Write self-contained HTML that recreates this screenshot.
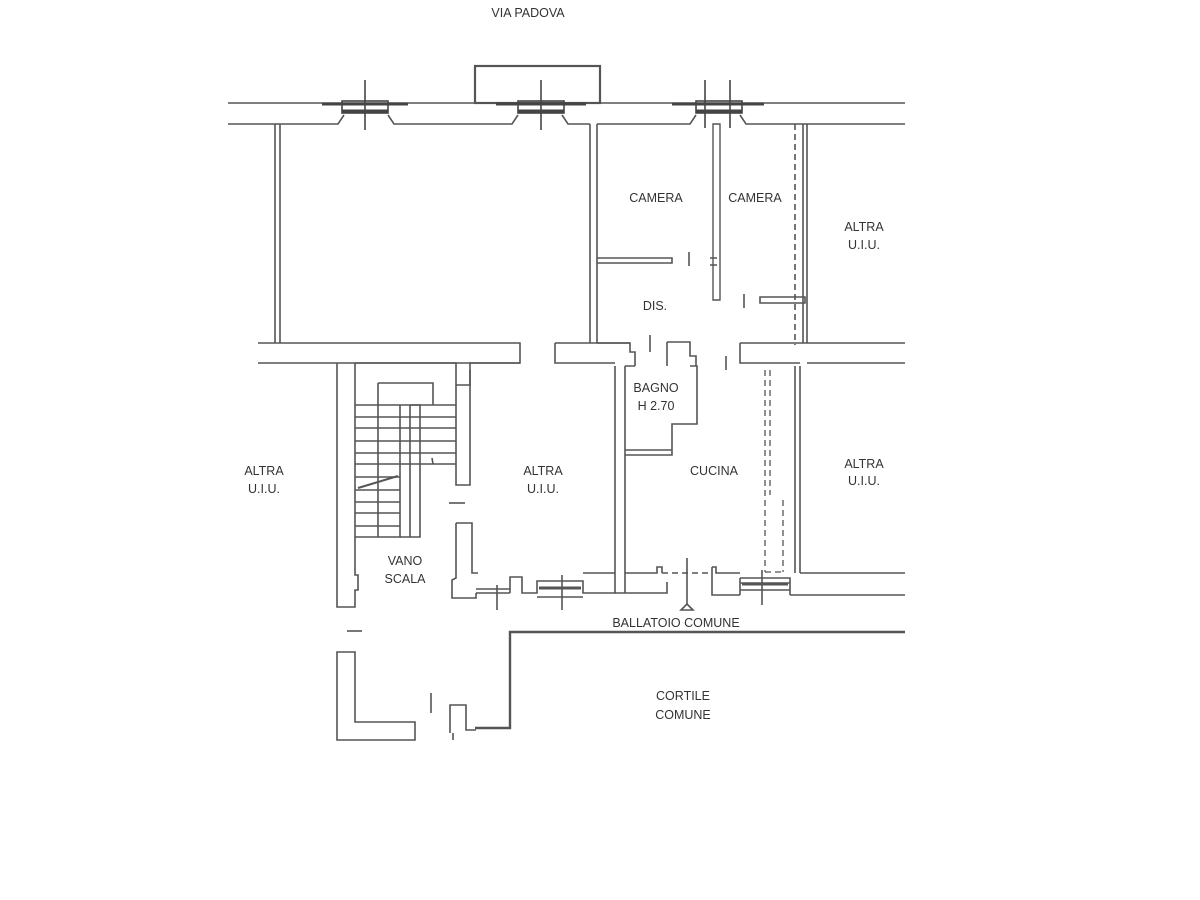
<!DOCTYPE html>
<html><head><meta charset="utf-8"><style>
html,body{margin:0;padding:0;background:#fff;width:1200px;height:900px;overflow:hidden}
svg{display:block}
text{font-family:"Liberation Sans",sans-serif;font-size:12.5px;fill:#333;text-anchor:middle}
</style></head><body>
<svg width="1200" height="900" viewBox="0 0 1200 900" xmlns="http://www.w3.org/2000/svg">
<g fill="none" stroke="#555" stroke-width="1.6">
<!-- top facade -->
<line x1="228" y1="103" x2="905" y2="103"/>
<path d="M228 124 H338 L344 115 M388 115 L394 124 H512 L518 115 M562 115 L568 124 H590"/>
<path d="M597 124 H690 L696 115 M740 115 L746 124 H905"/>
<rect x="475" y="66" width="125" height="37" stroke-width="2.2"/>
<!-- windows -->
<g stroke="#444">
<rect x="342" y="101" width="46" height="12"/><line x1="322" y1="104" x2="408" y2="104" stroke-width="3"/><line x1="342" y1="111" x2="388" y2="111" stroke-width="3"/><line x1="365" y1="80" x2="365" y2="130"/>
<rect x="518" y="101" width="46" height="12"/><line x1="496" y1="104" x2="586" y2="104" stroke-width="3"/><line x1="518" y1="111" x2="564" y2="111" stroke-width="3"/><line x1="541" y1="80" x2="541" y2="130"/>
<rect x="696" y="101" width="46" height="12"/><line x1="672" y1="104" x2="764" y2="104" stroke-width="3"/><line x1="696" y1="111" x2="742" y2="111" stroke-width="3"/><line x1="705" y1="80" x2="705" y2="128"/><line x1="730" y1="80" x2="730" y2="128"/>
</g>
<!-- big room -->
<path d="M275 124 V343 M280 124 V343"/>
<path d="M590 124 V343 M597 124 V343"/>
<path d="M258 343 H520 V363 H258"/>
<path d="M555 343 H630 M555 343 V363 H615"/>
<!-- camera / dis -->
<path d="M597 258 H672 V263 H597"/>
<line x1="689" y1="252" x2="689" y2="266"/>
<path d="M713 124 V300 H720 V124 Z" stroke-width="1.4"/>
<path d="M710 258 H717 M710 265 H717"/>
<line x1="744" y1="294" x2="744" y2="308"/>
<path d="M760 297 H805 V303 H760 Z"/>
<line x1="795" y1="124" x2="795" y2="345" stroke-dasharray="6 4"/>
<path d="M803 124 V343 M807 124 V343"/>
<!-- dis lower walls -->
<path d="M597 343 H630 V352 H635 V366"/>
<line x1="650" y1="335" x2="650" y2="352"/>
<path d="M667 342 H690 V356 H696 V366"/>
<path d="M667 342 V366"/>
<line x1="726" y1="356" x2="726" y2="370"/>
<path d="M740 343 H905 M740 343 V363 H800 M807 363 H905"/>
<!-- bagno -->
<path d="M615 366 V573 M625 366 V573"/>
<path d="M625 366 H635 M625 455 H672 V424 H697 V366 H690"/>
<path d="M625 450 H672"/>
<!-- right lower -->
<path d="M795 366 V573 M800 366 V573"/>
<path d="M800 573 H905 M790 595 H905"/>
<!-- kitchen dashed -->
<g stroke-dasharray="6 4" stroke-width="1.3">
<line x1="765" y1="370" x2="765" y2="572"/>
<line x1="770" y1="370" x2="770" y2="495"/>
<line x1="783" y1="500" x2="783" y2="572"/>
<line x1="765" y1="572" x2="783" y2="572"/>
</g>
<!-- kitchen bottom -->
<path d="M625 573 H657 V567 H662 V573" stroke-dasharray="none"/>
<path d="M662 573 H712" stroke-dasharray="6 4"/>
<path d="M712 567 V595 H740 M712 567 H716 V573 H740"/>
<path d="M740 578 H790 V595 M740 578 V595 M740 583 H790 M740 590 H790"/>
<line x1="742" y1="584" x2="788" y2="584" stroke-width="3"/>
<line x1="762" y1="570" x2="762" y2="605"/>
<line x1="687" y1="558" x2="687" y2="605"/>
<path d="M681 610 L687 604 L693 610 Z"/>
<!-- stair -->
<path d="M337 363 V607 H355 V590 H358 V575 H355 V363"/>
<path d="M355 363 H456 V385 H462 M470 370 V385 H462"/>
<path d="M456 385 V485 H470 V363 H520"/>
<path d="M378 383 H433 V405"/>
<path d="M378 383 V537 M400 405 V537 H355"/>
<path d="M355 405 H456 M355 417 H456 M355 428 H456 M355 441 H456 M355 453 H456 M355 464 H456 M355 477 H400 M355 490 H400 M355 502 H400 M355 513 H400 M355 526 H400"/>
<path d="M410 405 H420 V537 H400 M410 405 V537"/>
<path d="M358 488 L398 476" stroke-width="2"/>
<path d="M432 458 L433 464" />
<line x1="449" y1="503" x2="465" y2="503"/>
<path d="M456 523 H472 V573 H478 M456 523 V578 L452 580 V598 H476 V593"/>
<line x1="347" y1="631" x2="362" y2="631"/>
<path d="M476 593 H510 M497 585 V610 M476 589 H510" />
<path d="M510 593 V577 H522 V593 H537 V581 H583 V593 H615 V573 M537 597 H583"/>
<line x1="539" y1="588" x2="581" y2="588" stroke-width="3"/>
<line x1="562" y1="575" x2="562" y2="610"/>
<path d="M583 573 H615"/>
<path d="M615 593 H667 V582 M625 573 V593"/>
<!-- ballatoio -->
<path d="M905 632 H510 V728 H475" stroke-width="2.4"/>
<!-- bottom-left -->
<path d="M337 652 H355 V722 H415 V740 H337 Z"/>
<line x1="431" y1="693" x2="431" y2="713"/>
<path d="M450 733 V705 H466 V730 H476"/>
<line x1="453" y1="733" x2="453" y2="740"/>
</g>
<text x="528" y="17">VIA PADOVA</text>
<text x="656" y="202">CAMERA</text>
<text x="755" y="202">CAMERA</text>
<text x="864" y="231">ALTRA</text><text x="864" y="249">U.I.U.</text>
<text x="655" y="310">DIS.</text>
<text x="656" y="392">BAGNO</text><text x="656" y="410">H 2.70</text>
<text x="264" y="475">ALTRA</text><text x="264" y="493">U.I.U.</text>
<text x="543" y="475">ALTRA</text><text x="543" y="493">U.I.U.</text>
<text x="714" y="475">CUCINA</text>
<text x="864" y="468">ALTRA</text><text x="864" y="485">U.I.U.</text>
<text x="405" y="565">VANO</text><text x="405" y="583">SCALA</text>
<text x="676" y="627">BALLATOIO COMUNE</text>
<text x="683" y="700">CORTILE</text><text x="683" y="719">COMUNE</text>
</svg>
</body></html>
